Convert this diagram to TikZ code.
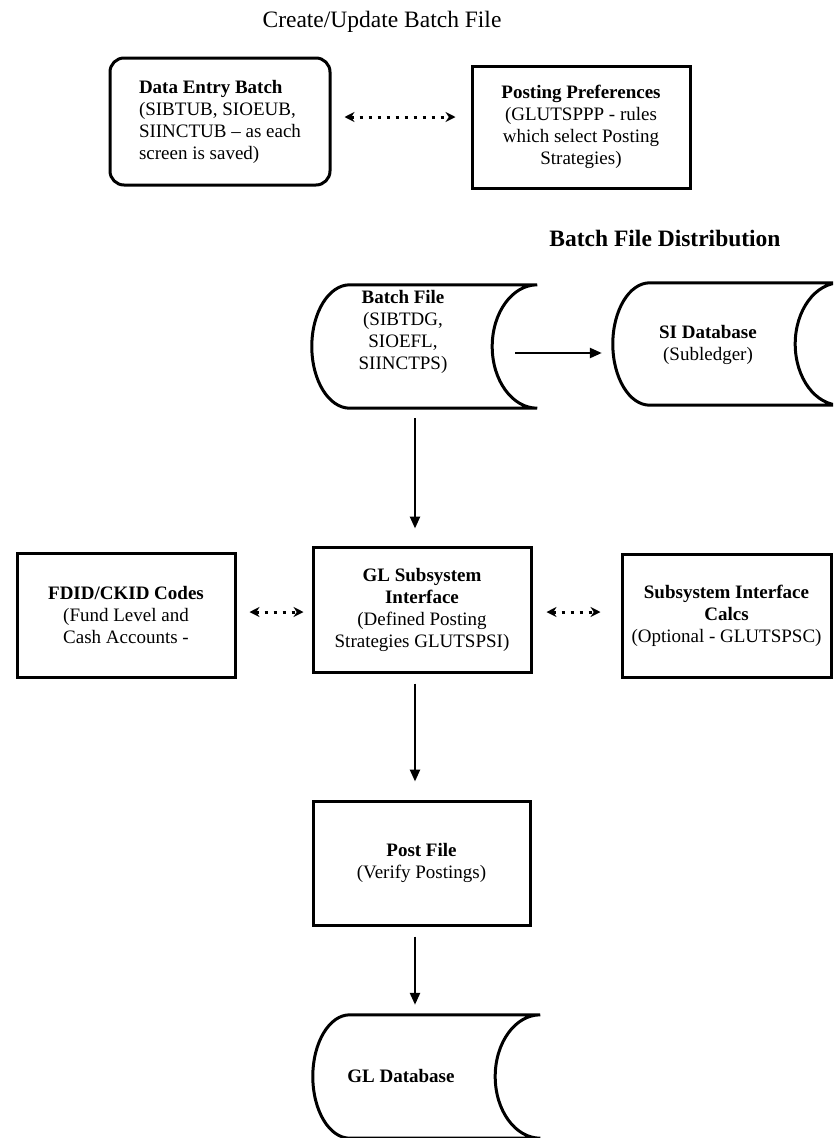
\documentclass[tikz,border=0pt]{standalone}
\usepackage{fontspec}
\setmainfont{Liberation Serif}
\usetikzlibrary{calc,arrows.meta}

% Outline of a "stored data" symbol around a node:
% #1 node name, #2 depth of the left bulge, #3 depth of the right hollow
\newcommand\storeoutline[3]{%
  \draw[frame] let \p1=(#1.north west), \p2=(#1.south east) in
    (\x2,\y1) -- (\x1+#2pt,\y1)
    arc[start angle=90, end angle=270, x radius=#2pt, y radius={(\y1-\y2)/2}]
    -- (\x2,\y2)
    arc[start angle=270, end angle=90, x radius=#3pt, y radius={(\y1-\y2)/2}]
    -- cycle;
}

\begin{document}
\begin{tikzpicture}[x=1pt, y=-1pt,
  every node/.style={font=\fontsize{19}{22}\selectfont, inner sep=0pt},
  heading/.style={font=\fontsize{23.5}{28}\selectfont},
  frame/.style={draw=black, line width=3pt},
  sqbox/.style={frame, align=center},
  arr/.style={line width=2.4pt, -{Triangle[length=12pt,width=10pt]}},
  darr/.style={line width=3pt, dash pattern=on 3pt off 6pt,
    {Stealth[length=10pt,width=10pt]}-{Stealth[length=10pt,width=10pt]}}
]
\useasboundingbox (0,0) rectangle (833,1138);
\clip (0,0) rectangle (833,1138);

% headings
\node[heading] (title) at (382,22) {Create/Update Batch File};
\node[heading] (disttitle) at (665,238) {\textbf{Batch File Distribution}};

% batch creation
\node[frame, rounded corners=14pt, minimum width=220pt, minimum height=127pt, align=left]
  (entry) at (220,121.5)
  {\textbf{Data Entry Batch}\\(SIBTUB, SIOEUB,\\SIINCTUB -- as each\\screen is saved)};
\node[sqbox, minimum width=218pt, minimum height=122pt]
  (ppref) at (581,127)
  {\textbf{Posting Preferences}\\(GLUTSPPP - rules\\which select Posting\\Strategies)};

% stored data symbols
\node[minimum width=225pt, minimum height=123pt] (batch) at (424.5,346.5) {};
\storeoutline{batch}{38}{45}
\node[align=center] (batchtext) at (403,332)
  {\textbf{Batch File}\\(SIBTDG,\\SIOEFL,\\SIINCTPS)};

\node[minimum width=227pt, minimum height=122pt] (si) at (726.5,344) {};
\storeoutline{si}{37}{45}
\node[align=center] (sitext) at (708,345) {\textbf{SI Database}\\(Subledger)};

% interface row
\node[sqbox, minimum width=218pt, minimum height=124pt]
  (fdid) at (126,615)
  {\textbf{FDID/CKID Codes}\\(Fund Level and\\Cash Accounts -};
\node[sqbox, minimum width=218pt, minimum height=125pt]
  (gl) at (422,609.5)
  {\textbf{GL Subsystem}\\\textbf{Interface}\\(Defined Posting\\Strategies GLUTSPSI)};
\node[sqbox, minimum width=209pt, minimum height=123pt]
  (calcs) at (726.5,615.5)
  {\textbf{Subsystem Interface}\\\textbf{Calcs}\\(Optional - GLUTSPSC)};

% posting
\node[sqbox, minimum width=217pt, minimum height=124pt]
  (postf) at (421.5,863)
  {\textbf{Post File}\\(Verify Postings)};

\node[minimum width=227pt, minimum height=123pt] (gldb) at (426.5,1076.5) {};
\storeoutline{gldb}{37}{45}
\node (gldbtext) at (401,1076) {\textbf{GL Database}};

% connectors
\coordinate (ax) at (415,0);
\draw[darr] ($(entry.east)+(13,-4.5)$) -- ($(ppref.west)+(-15,-10)$);
\draw[arr] ($(batch.east)+(-22,6.5)$) -- ($(si.west)+(-11,9)$);
\draw[arr] ($(batch.south -| ax)+(0,10)$) -- ($(gl.north -| ax)+(0,-17)$);
\draw[darr] ($(fdid.east)+(13,-3)$) -- ($(gl.west)+(-8,2.5)$);
\draw[darr] ($(gl.east)+(14,2.5)$) -- ($(calcs.west)+(-20,-3.5)$);
\draw[arr] ($(gl.south -| ax)+(0,10)$) -- ($(postf.north -| ax)+(0,-18)$);
\draw[arr] ($(postf.south -| ax)+(0,10)$) -- ($(gldb.north -| ax)+(0,-10)$);
\end{tikzpicture}
\end{document}
